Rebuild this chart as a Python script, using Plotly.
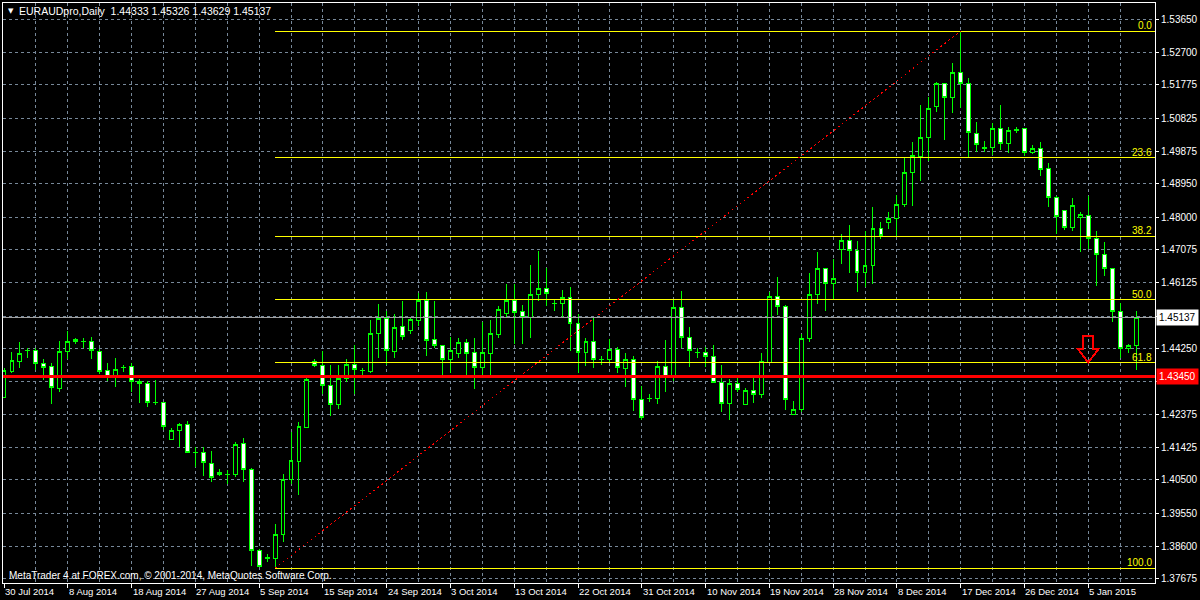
import plotly.graph_objects as go

# EURAUDpro daily candles as shown in MT4 (one bar per trading day, Sunday bars included)
open_ = [
    1.4285, 1.4359, 1.4388, 1.4419, 1.4419, 1.4382, 1.4374, 1.4311, 1.4416, 1.4451,
    1.4445, 1.4445, 1.4416, 1.4362, 1.4342, 1.4371, 1.4374, 1.4331, 1.4325, 1.4271,
    1.4270, 1.4166, 1.4191, 1.4208, 1.4129, 1.4128, 1.4097, 1.4072, 1.4066, 1.4066,
    1.4154, 1.4078, 1.3849, 1.3827, 1.3826, 1.3895, 1.4052, 1.4103, 1.4200, 1.4388,
    1.4377, 1.4320, 1.4265, 1.4340, 1.4379, 1.4362, 1.4359, 1.4468, 1.4511, 1.4416,
    1.4488, 1.4476, 1.4505, 1.4562, 1.4451, 1.4434, 1.4394, 1.4411, 1.4442, 1.4414,
    1.4371, 1.4411, 1.4465, 1.4525, 1.4562, 1.4531, 1.4513, 1.4579, 1.4596, 1.4553,
    1.4553, 1.4570, 1.4496, 1.4414, 1.4445, 1.4394, 1.4394, 1.4422, 1.4368, 1.4394,
    1.4280, 1.4283, 1.4282, 1.4374, 1.4345, 1.4542, 1.4456, 1.4414, 1.4414, 1.4402,
    1.4328, 1.4268, 1.4325, 1.4265, 1.4305, 1.4294, 1.4385, 1.4573, 1.4545, 1.4237,
    1.4251, 1.4454, 1.4579, 1.4653, 1.4610, 1.4707, 1.4733, 1.4704, 1.4642, 1.4662,
    1.4767, 1.4784, 1.4796, 1.4836, 1.4927, 1.4972, 1.5026, 1.5117, 1.5180, 1.5140,
    1.5212, 1.5180, 1.5038, 1.4998, 1.4998, 1.5052, 1.5009, 1.5049, 1.5052, 1.4984,
    1.4995, 1.4938, 1.4855, 1.4818, 1.4770, 1.4798, 1.4804, 1.4739, 1.4693, 1.4653,
    1.4530, 1.4425, 1.44333,
]
high = [
    1.4368, 1.4416, 1.4442, 1.4425, 1.4425, 1.4394, 1.4382, 1.4445, 1.4476, 1.4454,
    1.4456, 1.4459, 1.4422, 1.4382, 1.4397, 1.4379, 1.4382, 1.4337, 1.4331, 1.4334,
    1.4272, 1.4197, 1.4211, 1.4217, 1.4143, 1.4143, 1.4131, 1.4080, 1.4078, 1.4157,
    1.4168, 1.4083, 1.3851, 1.3838, 1.3923, 1.4066, 1.4186, 1.4214, 1.4342, 1.4394,
    1.4419, 1.4379, 1.4379, 1.4394, 1.4436, 1.4368, 1.4505, 1.4553, 1.4533, 1.4522,
    1.4559, 1.4516, 1.4582, 1.4585, 1.4559, 1.4436, 1.4459, 1.4454, 1.4451, 1.4454,
    1.4499, 1.4505, 1.4545, 1.4610, 1.4608, 1.4550, 1.4662, 1.4704, 1.4656, 1.4567,
    1.4593, 1.4599, 1.4522, 1.4454, 1.4511, 1.4402, 1.4451, 1.4428, 1.4411, 1.4402,
    1.4317, 1.4294, 1.4388, 1.4448, 1.4565, 1.4590, 1.4485, 1.4425, 1.4428, 1.4436,
    1.4377, 1.4337, 1.4340, 1.4311, 1.4342, 1.4411, 1.4587, 1.4630, 1.4550, 1.4274,
    1.4465, 1.4639, 1.4701, 1.4656, 1.4681, 1.4753, 1.4776, 1.4733, 1.4761, 1.4830,
    1.4787, 1.4815, 1.4864, 1.4969, 1.5015, 1.5120, 1.5143, 1.5186, 1.5183, 1.5240,
    1.5331, 1.5197, 1.5072, 1.5018, 1.5069, 1.5120, 1.5058, 1.5058, 1.5055, 1.5006,
    1.5015, 1.4955, 1.4861, 1.4821, 1.4855, 1.4815, 1.4861, 1.4761, 1.4730, 1.4656,
    1.4556, 1.4439, 1.45326,
]
low = [
    1.4283, 1.4354, 1.4368, 1.4399, 1.4362, 1.4334, 1.4265, 1.4300, 1.4394, 1.4439,
    1.4425, 1.4394, 1.4351, 1.4331, 1.4314, 1.4359, 1.4302, 1.4268, 1.4257, 1.4263,
    1.4191, 1.4163, 1.4143, 1.4127, 1.4086, 1.4060, 1.4043, 1.4060, 1.4037, 1.4057,
    1.4045, 1.3803, 1.3800, 1.3815, 1.3798, 1.3872, 1.4037, 1.4006, 1.4198, 1.4371,
    1.4294, 1.4231, 1.4251, 1.4328, 1.4294, 1.4348, 1.4356, 1.4397, 1.4377, 1.4399,
    1.4448, 1.4467, 1.4488, 1.4402, 1.4425, 1.4348, 1.4354, 1.4399, 1.4348, 1.4308,
    1.4348, 1.4348, 1.4456, 1.4513, 1.4439, 1.4439, 1.4454, 1.4559, 1.4545, 1.4531,
    1.4513, 1.4419, 1.4356, 1.4374, 1.4368, 1.4379, 1.4385, 1.4354, 1.4314, 1.4245,
    1.4220, 1.4271, 1.4265, 1.4302, 1.4331, 1.4425, 1.4371, 1.4397, 1.4371, 1.4325,
    1.4243, 1.4220, 1.4302, 1.4263, 1.4268, 1.4283, 1.4382, 1.4519, 1.4248, 1.4234,
    1.4243, 1.4442, 1.4553, 1.4533, 1.4562, 1.4667, 1.4639, 1.4585, 1.4599, 1.4610,
    1.4736, 1.4767, 1.4747, 1.4830, 1.4833, 1.4904, 1.4961, 1.5100, 1.5021, 1.5098,
    1.5112, 1.4972, 1.4987, 1.4987, 1.4978, 1.4992, 1.4984, 1.5041, 1.4975, 1.4981,
    1.4918, 1.4830, 1.4753, 1.4764, 1.4761, 1.4701, 1.4710, 1.4602, 1.4633, 1.4499,
    1.4397, 1.4411, 1.43629,
]
close = [
    1.4362, 1.4391, 1.4411, 1.4418, 1.4382, 1.4371, 1.4314, 1.4416, 1.4445, 1.4445,
    1.4444, 1.4419, 1.4359, 1.4345, 1.4365, 1.4370, 1.4331, 1.4325, 1.4271, 1.4270,
    1.4203, 1.4191, 1.4208, 1.4129, 1.4128, 1.4100, 1.4057, 1.4066, 1.4065, 1.4151,
    1.4078, 1.3849, 1.3802, 1.3826, 1.3895, 1.4052, 1.4106, 1.4203, 1.4337, 1.4377,
    1.4320, 1.4265, 1.4340, 1.4379, 1.4365, 1.4361, 1.4468, 1.4511, 1.4419, 1.4485,
    1.4459, 1.4508, 1.4562, 1.4448, 1.4434, 1.4394, 1.4419, 1.4442, 1.4411, 1.4371,
    1.4414, 1.4468, 1.4536, 1.4562, 1.4528, 1.4513, 1.4579, 1.4596, 1.4582, 1.4552,
    1.4570, 1.4496, 1.4414, 1.4445, 1.4394, 1.4393, 1.4422, 1.4371, 1.4394, 1.4280,
    1.4228, 1.4282, 1.4374, 1.4345, 1.4542, 1.4456, 1.4419, 1.4413, 1.4402, 1.4328,
    1.4268, 1.4325, 1.4308, 1.4305, 1.4294, 1.4388, 1.4573, 1.4545, 1.4280, 1.4251,
    1.4454, 1.4579, 1.4653, 1.4610, 1.4624, 1.4733, 1.4704, 1.4642, 1.4662, 1.4767,
    1.4747, 1.4796, 1.4836, 1.4927, 1.4975, 1.5026, 1.5109, 1.5180, 1.5140, 1.5212,
    1.5180, 1.5041, 1.5006, 1.4997, 1.5052, 1.5009, 1.5046, 1.5048, 1.4984, 1.4995,
    1.4935, 1.4855, 1.4801, 1.4770, 1.4833, 1.4807, 1.4739, 1.4693, 1.4653, 1.4530,
    1.4425, 1.4433, 1.45137,
]

date_labels = ["30 Jul 2014", "8 Aug 2014", "18 Aug 2014", "27 Aug 2014", "5 Sep 2014",
               "15 Sep 2014", "24 Sep 2014", "3 Oct 2014", "13 Oct 2014", "22 Oct 2014",
               "31 Oct 2014", "10 Nov 2014", "19 Nov 2014", "28 Nov 2014", "8 Dec 2014",
               "17 Dec 2014", "26 Dec 2014", "5 Jan 2015"]

price_ticks = [1.53650, 1.52700, 1.51775, 1.50825, 1.49875, 1.48950, 1.48000, 1.47075,
               1.46125, 1.45175, 1.44250, 1.43300, 1.42375, 1.41425, 1.40500, 1.39550,
               1.38600, 1.37675]
hidden_ticks = [1.45175, 1.43300]  # covered by the price labels

# fibonacci retracement drawn from the Sep low to the Dec high
fib_high = 1.5331
fib_low = 1.3798
fib_levels = [0.0, 23.6, 38.2, 50.0, 61.8, 100.0]
fib_low_bar = 34
fib_high_bar = 120

support_level = 1.43450
last_price = 1.45137
arrow_bar = 136
arrow_price = 1.4385

GRID = "#778899"
FONT = "Liberation Sans"
bars = list(range(len(open_)))

fig = go.Figure()

fig.add_trace(go.Candlestick(
    x=bars, open=open_, high=high, low=low, close=close,
    increasing=dict(fillcolor="black", line=dict(color="#00ff00", width=1)),
    decreasing=dict(fillcolor="white", line=dict(color="#00ff00", width=1)),
    whiskerwidth=0, hoverinfo="skip", showlegend=False))

# fib levels
for lvl in fib_levels:
    price = fib_high - lvl / 100.0 * (fib_high - fib_low)
    fig.add_trace(go.Scatter(x=[fib_low_bar, len(bars) + 5], y=[price, price], mode="lines",
                             line=dict(color="#ffff00", width=1), hoverinfo="skip",
                             showlegend=False))
    fig.add_annotation(x=1, xref="paper", y=price, yref="y", xanchor="right", yanchor="bottom",
                       xshift=-1, yshift=-2, text=f"{lvl:.1f}", showarrow=False,
                       font=dict(family=FONT, size=10, color="#ffff00"))

# fib trend line
fig.add_trace(go.Scatter(x=[fib_low_bar, fib_high_bar], y=[fib_low, fib_high], mode="lines",
                         line=dict(color="#ff0000", width=1, dash="2px,3px"),
                         hoverinfo="skip", showlegend=False))

# bid line and support line
fig.add_shape(type="line", xref="paper", x0=0, x1=1, y0=last_price, y1=last_price,
              line=dict(color="#a0a0a0", width=1))
fig.add_shape(type="line", xref="paper", x0=0, x1=1, y0=support_level, y1=support_level,
              line=dict(color="#ff0000", width=3))

# down arrow
fig.add_shape(type="path", xref="x", yref="y", xsizemode="pixel", ysizemode="pixel",
              xanchor=arrow_bar, yanchor=arrow_price,
              path="M-5,26 L5,26 L5,13 L10,13 L0,0 L-10,13 L-5,13 Z",
              line=dict(color="#ff0000", width=2), fillcolor="rgba(0,0,0,0)")

# price labels on the axis
fig.add_annotation(x=1, xref="paper", y=last_price, yref="y", xanchor="left", yanchor="middle",
                   xshift=1, text=f"{last_price:.5f}", showarrow=False, bgcolor="white",
                   borderpad=2, font=dict(family=FONT, size=10, color="black"))
fig.add_annotation(x=1, xref="paper", y=support_level, yref="y", xanchor="left",
                   yanchor="middle", xshift=1, text=f"{support_level:.5f}", showarrow=False,
                   bgcolor="#ff0000", borderpad=2, font=dict(family=FONT, size=10, color="white"))

# date labels start at their bar like in MT4
label_bars = list(range(0, len(bars), 8))[:len(date_labels)]
for b, lbl in zip(label_bars, date_labels):
    fig.add_annotation(x=b, xref="x", y=0, yref="paper", xanchor="left", yanchor="top",
                       xshift=-1, yshift=-1, text=lbl, showarrow=False,
                       font=dict(family=FONT, size=9.5, color="white"))

# header and copyright
fig.add_annotation(x=0, xref="paper", y=1, yref="paper", xanchor="left", yanchor="top",
                   xshift=3, yshift=-2, text="▼", showarrow=False,
                   font=dict(family="DejaVu Sans", size=7, color="white"))
fig.add_annotation(x=0, xref="paper", y=1, yref="paper", xanchor="left", yanchor="top",
                   xshift=14, yshift=0,
                   text="EURAUDpro,Daily\u00a0\u00a01.44333 1.45326 1.43629 1.45137",
                   showarrow=False, font=dict(family=FONT, size=10.5, color="white"))
fig.add_annotation(x=0, xref="paper", y=0, yref="paper", xanchor="left", yanchor="bottom",
                   xshift=4, yshift=0,
                   text="MetaTrader 4 at FOREX.com, © 2001-2014, MetaQuotes Software Corp.",
                   showarrow=False, font=dict(family=FONT, size=10, color="white"))

fig.update_layout(
    width=1200, height=600,
    margin=dict(l=2, r=42, t=2, b=17),
    paper_bgcolor="black", plot_bgcolor="black",
    showlegend=False,
    xaxis=dict(range=[-0.125, 144.375], rangeslider=dict(visible=False),
               tickvals=label_bars, showticklabels=False, ticks="outside", ticklen=4,
               tickcolor="white", showgrid=True, gridcolor=GRID, griddash="3px,3px",
               gridwidth=1,
               minor=dict(tickvals=list(range(4, len(bars), 8)), showgrid=True,
                          gridcolor=GRID, griddash="3px,3px"),
               showline=True, linecolor="white", linewidth=1, mirror=True, zeroline=False),
    yaxis=dict(side="right", range=[1.37553, 1.54111], tickvals=price_ticks,
               ticktext=["" if t in hidden_ticks else f"{t:.5f}" for t in price_ticks],
               tickfont=dict(family=FONT, size=10, color="white"),
               ticks="outside", ticklen=3, tickcolor="white",
               showgrid=True, gridcolor=GRID, griddash="3px,3px",
               showline=True, linecolor="white", linewidth=1, mirror=True, zeroline=False),
)

# no body margin around the chart, crisp pixel lines like the terminal draws them
page_js = ("document.body.style.margin = '0';"
           "document.querySelectorAll('.main-svg path').forEach("
           "function (p) { p.style.shapeRendering = 'crispEdges'; });")
fig.write_html("out.html", config={"displayModeBar": False}, post_script=page_js)
